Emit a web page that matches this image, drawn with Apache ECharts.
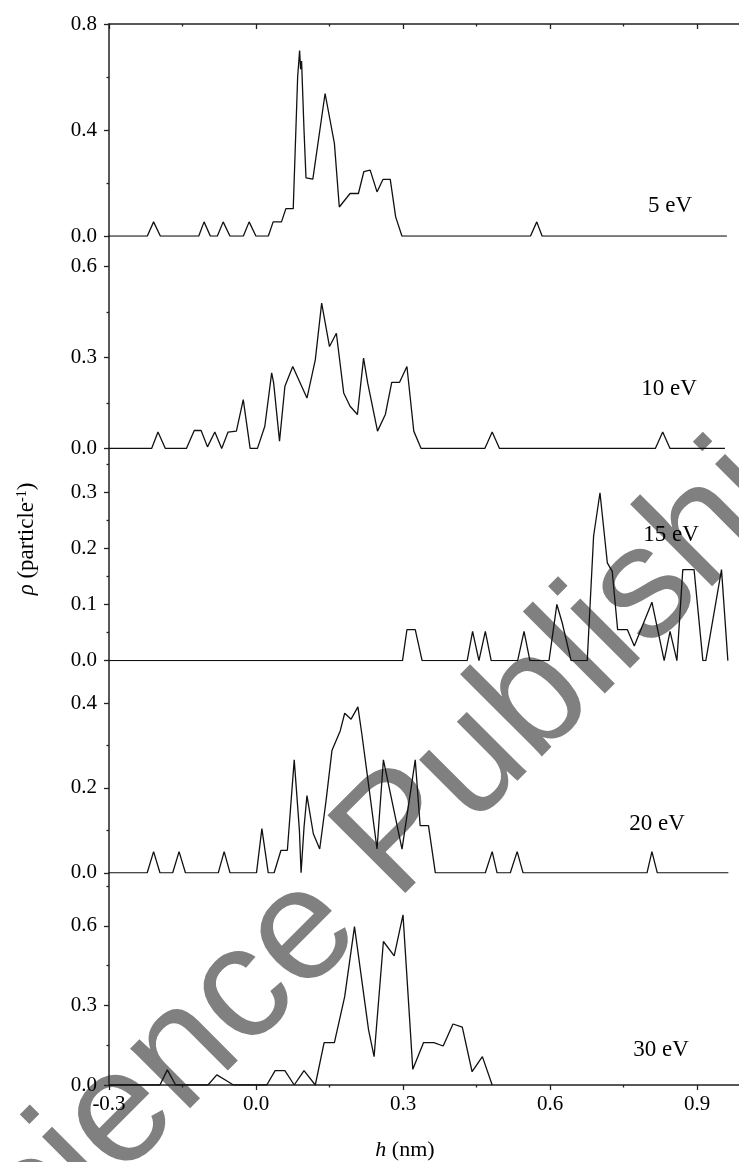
<!DOCTYPE html>
<html>
<head>
<meta charset="utf-8">
<script src="https://cdn.jsdelivr.net/npm/echarts@6/dist/echarts.min.js"></script>
<style>
  html, body { margin: 0; padding: 0; background: #ffffff; }
  #chart { width: 739px; height: 1162px; }
</style>
</head>
<body>
<div id="chart"></div>
<script>
// ---- Density profiles rho(h) for five incident energies ----
const h5 = [-0.3, -0.222, -0.209, -0.195, -0.117, -0.106, -0.093, -0.079, -0.067, -0.053, -0.026, -0.014, 0.000, 0.025, 0.035, 0.052, 0.061, 0.076, 0.080, 0.085, 0.089, 0.091, 0.093, 0.098, 0.102, 0.116, 0.141, 0.160, 0.170, 0.192, 0.209, 0.220, 0.233, 0.247, 0.259, 0.274, 0.285, 0.298, 0.560, 0.573, 0.584, 0.961];
const rho5 = [0, 0, 0.054, 0, 0, 0.054, 0, 0, 0.054, 0, 0, 0.054, 0, 0, 0.054, 0.054, 0.104, 0.104, 0.325, 0.60, 0.70, 0.63, 0.66, 0.40, 0.22, 0.215, 0.538, 0.35, 0.11, 0.161, 0.161, 0.243, 0.249, 0.167, 0.214, 0.214, 0.073, 0, 0, 0.054, 0, 0];

const h10 = [-0.3, -0.213, -0.200, -0.185, -0.142, -0.126, -0.112, -0.099, -0.084, -0.070, -0.057, -0.040, -0.026, -0.012, 0.003, 0.018, 0.032, 0.036, 0.048, 0.059, 0.075, 0.104, 0.121, 0.134, 0.150, 0.164, 0.179, 0.192, 0.207, 0.2195, 0.228, 0.248, 0.264, 0.277, 0.293, 0.308, 0.322, 0.337, 0.467, 0.482, 0.497, 0.815, 0.830, 0.845, 0.957];
const rho10 = [0, 0, 0.054, 0, 0, 0.059, 0.059, 0.005, 0.054, 0, 0.054, 0.057, 0.161, 0, 0, 0.073, 0.249, 0.216, 0.024, 0.205, 0.27, 0.166, 0.292, 0.479, 0.336, 0.38, 0.183, 0.139, 0.112, 0.298, 0.215, 0.057, 0.112, 0.218, 0.218, 0.27, 0.057, 0, 0, 0.054, 0, 0, 0.054, 0, 0];

const h15 = [-0.3, 0.299, 0.308, 0.325, 0.339, 0.431, 0.442, 0.455, 0.468, 0.480, 0.534, 0.547, 0.559, 0.598, 0.614, 0.625, 0.643, 0.676, 0.689, 0.702, 0.717, 0.727, 0.738, 0.758, 0.772, 0.808, 0.833, 0.845, 0.859, 0.871, 0.894, 0.912, 0.918, 0.950, 0.963];
const rho15 = [0, 0, 0.055, 0.055, 0, 0, 0.052, 0, 0.052, 0, 0, 0.052, 0, 0, 0.10, 0.067, 0, 0, 0.222, 0.299, 0.174, 0.159, 0.055, 0.055, 0.026, 0.104, 0, 0.052, 0, 0.162, 0.162, 0, 0, 0.162, 0];

const h20 = [-0.3, -0.222, -0.209, -0.196, -0.170, -0.157, -0.144, -0.077, -0.065, -0.053, 0.001, 0.012, 0.025, 0.037, 0.051, 0.064, 0.078, 0.0886, 0.092, 0.098, 0.104, 0.117, 0.130, 0.143, 0.155, 0.172, 0.181, 0.194, 0.208, 0.216, 0.226, 0.247, 0.260, 0.298, 0.325, 0.335, 0.352, 0.366, 0.468, 0.482, 0.492, 0.519, 0.533, 0.545, 0.798, 0.808, 0.819, 0.964];
const rho20 = [0, 0, 0.05, 0, 0, 0.05, 0, 0, 0.05, 0, 0, 0.104, 0, 0, 0.053, 0.053, 0.266, 0.10, 0, 0.107, 0.182, 0.092, 0.056, 0.17, 0.288, 0.335, 0.376, 0.362, 0.391, 0.327, 0.24, 0.056, 0.266, 0.056, 0.266, 0.111, 0.111, 0, 0, 0.05, 0, 0, 0.05, 0, 0, 0.05, 0, 0];

const h30 = [-0.3, -0.196, -0.181, -0.164, -0.098, -0.080, -0.060, -0.046, 0.022, 0.039, 0.059, 0.078, 0.098, 0.121, 0.139, 0.160, 0.181, 0.201, 0.2297, 0.241, 0.260, 0.282, 0.300, 0.320, 0.342, 0.363, 0.382, 0.402, 0.421, 0.441, 0.462, 0.482];
const rho30 = [0, 0, 0.057, 0, 0, 0.038, 0.016, 0, 0, 0.054, 0.054, 0, 0.054, 0, 0.16, 0.16, 0.333, 0.597, 0.2075, 0.107, 0.541, 0.487, 0.6415, 0.059, 0.16, 0.16, 0.147, 0.230, 0.218, 0.050, 0.107, 0];

const energyLabels = ['5 eV', '10 eV', '15 eV', '20 eV', '30 eV'];

// x (h, nm) ticks shared by all panels
const hMajorTicks = [-0.3, 0.0, 0.3, 0.6, 0.9];
const hMinorTicks = [-0.15, 0.15, 0.45, 0.75];

// y ranges and ticks of each panel, top to bottom
const yMax = [0.8, 0.7, 0.378, 0.5, 0.8];
const yMajorTicks = [[0, 0.4, 0.8], [0, 0.3, 0.6], [0, 0.1, 0.2, 0.3], [0, 0.2, 0.4], [0, 0.3, 0.6]];
const yMinorTicks = [[0.2, 0.6], [0.15, 0.45], [0.05, 0.15, 0.25, 0.35], [0.1, 0.3], [0.15, 0.45, 0.75]];

const seriesH = [h5, h10, h15, h20, h30];
const seriesRho = [rho5, rho10, rho15, rho20, rho30];

// ---- layout ----
const PLOT_TOP = 24;
const PANEL_H = 212.2;
const LEFT = 109;
const RIGHT = -7;
const FONT = 'Liberation Serif';
const INK = '#111111';
const AXIS = '#222222';

const grids = [], xAxes = [], yAxes = [], series = [];
const fmt = v => Number(v).toFixed(1);

for (let i = 0; i < 5; i++) {
  grids.push({
    left: LEFT, right: RIGHT,
    top: PLOT_TOP + i * PANEL_H, height: PANEL_H,
    outerBoundsMode: 'none', containLabel: false
  });

  // y axes: one with major ticks + labels + line, one with minor ticks only
  yAxes.push({
    type: 'value', gridIndex: i, min: 0, max: yMax[i], position: 'left',
    splitLine: { show: false },
    axisLine: { show: true, onZero: false, lineStyle: { color: AXIS, width: 1.5 } },
    axisTick: { show: true, inside: false, length: 5, customValues: yMajorTicks[i], lineStyle: { color: AXIS, width: 1.3 } },
    axisLabel: { show: true, customValues: yMajorTicks[i], formatter: fmt, margin: 12,
                 fontFamily: FONT, fontSize: 21, color: '#000' }
  });
  yAxes.push({
    type: 'value', gridIndex: i, min: 0, max: yMax[i], position: 'left',
    splitLine: { show: false },
    axisLine: { show: false, onZero: false },
    axisTick: { show: true, inside: false, length: 2.5, customValues: yMinorTicks[i], lineStyle: { color: AXIS, width: 1.3 } },
    axisLabel: { show: false }
  });
}

// x axes: top frame of first panel, hidden axes in the middle, labelled bottom axis
const primaryX = [];
for (let i = 0; i < 5; i++) {
  if (i === 0) {
    primaryX.push(xAxes.length);
    xAxes.push({
      type: 'value', gridIndex: 0, min: -0.3, max: 1.0, position: 'top',
      splitLine: { show: false },
      axisLine: { show: true, onZero: false, lineStyle: { color: AXIS, width: 1.5 } },
      axisTick: { show: true, inside: true, length: 5, customValues: hMajorTicks, lineStyle: { color: AXIS, width: 1.3 } },
      axisLabel: { show: false }
    });
    xAxes.push({
      type: 'value', gridIndex: 0, min: -0.3, max: 1.0, position: 'top',
      splitLine: { show: false },
      axisLine: { show: false, onZero: false },
      axisTick: { show: true, inside: true, length: 2.5, customValues: hMinorTicks, lineStyle: { color: AXIS, width: 1.3 } },
      axisLabel: { show: false }
    });
  } else if (i === 4) {
    primaryX.push(xAxes.length);
    xAxes.push({
      type: 'value', gridIndex: 4, min: -0.3, max: 1.0, position: 'bottom',
      splitLine: { show: false },
      axisLine: { show: true, onZero: false, lineStyle: { color: AXIS, width: 1.5 } },
      axisTick: { show: true, inside: false, length: 5, customValues: hMajorTicks, lineStyle: { color: AXIS, width: 1.3 } },
      axisLabel: { show: true, customValues: hMajorTicks, formatter: fmt, margin: 9,
                   fontFamily: FONT, fontSize: 21, color: '#000' }
    });
    xAxes.push({
      type: 'value', gridIndex: 4, min: -0.3, max: 1.0, position: 'bottom',
      splitLine: { show: false },
      axisLine: { show: false, onZero: false },
      axisTick: { show: true, inside: false, length: 2.5, customValues: hMinorTicks, lineStyle: { color: AXIS, width: 1.3 } },
      axisLabel: { show: false }
    });
  } else {
    primaryX.push(xAxes.length);
    xAxes.push({ type: 'value', gridIndex: i, min: -0.3, max: 1.0, show: false });
  }
}

for (let i = 0; i < 5; i++) {
  series.push({
    type: 'line',
    name: energyLabels[i],
    xAxisIndex: primaryX[i],
    yAxisIndex: 2 * i,
    data: seriesH[i].map((x, k) => [x, seriesRho[i][k]]),
    showSymbol: false,
    symbol: 'none',
    lineStyle: { color: INK, width: 1.3 },
    clip: true,
    z: 5,
    animation: false
  });
}

// energy tags placed inside each panel
const tagPos = [[670, 206], [669, 389], [671, 535], [657, 824], [661, 1050]];
const graphics = [
  {
    // publisher watermark lying under the plot
    type: 'text', x: -12.5, y: 1361.5, rotation: Math.PI / 4, z: -10, silent: true,
    style: {
      text: 'Science Publishing', fontFamily: 'Liberation Sans', fontSize: 160,
      fill: '#808080', align: 'left', textAlign: 'left',
      verticalAlign: 'bottom', textVerticalAlign: 'bottom'
    }
  }
];
energyLabels.forEach((t, i) => {
  graphics.push({
    type: 'text', x: tagPos[i][0], y: tagPos[i][1], z: 10,
    style: { text: t, fontFamily: FONT, fontSize: 23, fill: '#000',
             align: 'center', textAlign: 'center', verticalAlign: 'middle', textVerticalAlign: 'middle' }
  });
});
// axis titles
graphics.push({
  type: 'text', x: 27, y: 539, rotation: Math.PI / 2, z: 10,
  style: {
    text: '{i|ρ} (particle{s|-1})',
    fontFamily: FONT, fontSize: 23, fill: '#000',
    align: 'center', textAlign: 'center', verticalAlign: 'middle', textVerticalAlign: 'middle',
    rich: {
      i: { fontFamily: FONT, fontSize: 23, fontStyle: 'italic', fill: '#000' },
      s: { fontFamily: FONT, fontSize: 14, fill: '#000', verticalAlign: 'top' }
    }
  }
});
graphics.push({
  type: 'text', x: 405, y: 1150, z: 10,
  style: {
    text: '{i|h} (nm)',
    fontFamily: FONT, fontSize: 22, fill: '#000',
    align: 'center', textAlign: 'center', verticalAlign: 'middle', textVerticalAlign: 'middle',
    rich: {
      i: { fontFamily: FONT, fontSize: 22, fontStyle: 'italic', fill: '#000' }
    }
  }
});

const chart = echarts.init(document.getElementById('chart'), null, { renderer: 'canvas' });
chart.setOption({
  backgroundColor: '#ffffff',
  animation: false,
  grid: grids,
  xAxis: xAxes,
  yAxis: yAxes,
  series: series,
  graphic: { elements: graphics }
});
</script>
</body>
</html>
